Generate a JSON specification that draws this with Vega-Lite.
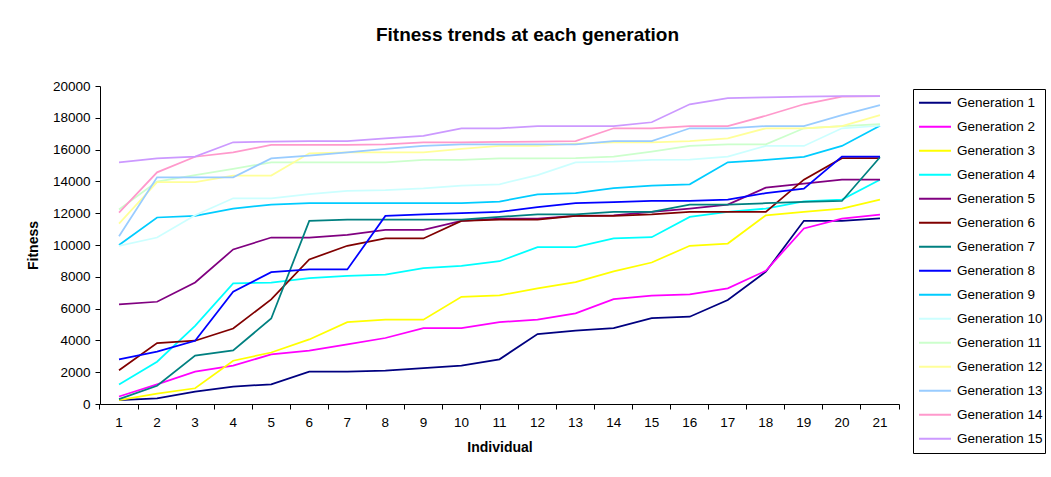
{
  "$schema": "https://vega.github.io/schema/vega-lite/v6.json",
  "width": 799,
  "height": 318,
  "autosize": {"type": "none"},
  "padding": {"left": 100, "top": 86, "right": 152, "bottom": 73},
  "background": "white",
  "title": {"text": "Fitness trends at each generation", "font": "Liberation Sans", "fontSize": 19, "fontWeight": "bold", "color": "#000000", "anchor": "middle", "dx": 28, "offset": 34},
  "config": {
    "view": {"stroke": null},
    "font": "Liberation Sans",
    "axis": {"domainColor": "#000000", "tickColor": "#000000", "tickSize": 5, "labelColor": "#000000", "labelFont": "Liberation Sans", "labelFontSize": 13.5, "titleFont": "Liberation Sans", "titleFontSize": 14, "titleFontWeight": "bold", "titleColor": "#000000", "grid": false}
  },
  "data": {"values": [
{"g":"Generation 1","i":1,"f":250},{"g":"Generation 1","i":2,"f":350},{"g":"Generation 1","i":3,"f":780},{"g":"Generation 1","i":4,"f":1090},{"g":"Generation 1","i":5,"f":1240},{"g":"Generation 1","i":6,"f":2040},{"g":"Generation 1","i":7,"f":2040},{"g":"Generation 1","i":8,"f":2100},{"g":"Generation 1","i":9,"f":2260},{"g":"Generation 1","i":10,"f":2410},{"g":"Generation 1","i":11,"f":2810},{"g":"Generation 1","i":12,"f":4400},{"g":"Generation 1","i":13,"f":4610},{"g":"Generation 1","i":14,"f":4770},{"g":"Generation 1","i":15,"f":5400},{"g":"Generation 1","i":16,"f":5490},{"g":"Generation 1","i":17,"f":6540},{"g":"Generation 1","i":18,"f":8320},{"g":"Generation 1","i":19,"f":11520},{"g":"Generation 1","i":20,"f":11520},{"g":"Generation 1","i":21,"f":11670},
{"g":"Generation 2","i":1,"f":470},{"g":"Generation 2","i":2,"f":1230},{"g":"Generation 2","i":3,"f":2030},{"g":"Generation 2","i":4,"f":2410},{"g":"Generation 2","i":5,"f":3120},{"g":"Generation 2","i":6,"f":3350},{"g":"Generation 2","i":7,"f":3750},{"g":"Generation 2","i":8,"f":4150},{"g":"Generation 2","i":9,"f":4770},{"g":"Generation 2","i":10,"f":4770},{"g":"Generation 2","i":11,"f":5150},{"g":"Generation 2","i":12,"f":5300},{"g":"Generation 2","i":13,"f":5700},{"g":"Generation 2","i":14,"f":6590},{"g":"Generation 2","i":15,"f":6810},{"g":"Generation 2","i":16,"f":6890},{"g":"Generation 2","i":17,"f":7270},{"g":"Generation 2","i":18,"f":8380},{"g":"Generation 2","i":19,"f":11040},{"g":"Generation 2","i":20,"f":11660},{"g":"Generation 2","i":21,"f":11910},
{"g":"Generation 3","i":1,"f":250},{"g":"Generation 3","i":2,"f":650},{"g":"Generation 3","i":3,"f":990},{"g":"Generation 3","i":4,"f":2720},{"g":"Generation 3","i":5,"f":3240},{"g":"Generation 3","i":6,"f":4060},{"g":"Generation 3","i":7,"f":5150},{"g":"Generation 3","i":8,"f":5300},{"g":"Generation 3","i":9,"f":5300},{"g":"Generation 3","i":10,"f":6740},{"g":"Generation 3","i":11,"f":6830},{"g":"Generation 3","i":12,"f":7270},{"g":"Generation 3","i":13,"f":7660},{"g":"Generation 3","i":14,"f":8340},{"g":"Generation 3","i":15,"f":8900},{"g":"Generation 3","i":16,"f":9950},{"g":"Generation 3","i":17,"f":10090},{"g":"Generation 3","i":18,"f":11870},{"g":"Generation 3","i":19,"f":12080},{"g":"Generation 3","i":20,"f":12290},{"g":"Generation 3","i":21,"f":12860},
{"g":"Generation 4","i":1,"f":1230},{"g":"Generation 4","i":2,"f":2660},{"g":"Generation 4","i":3,"f":4920},{"g":"Generation 4","i":4,"f":7580},{"g":"Generation 4","i":5,"f":7640},{"g":"Generation 4","i":6,"f":7920},{"g":"Generation 4","i":7,"f":8060},{"g":"Generation 4","i":8,"f":8130},{"g":"Generation 4","i":9,"f":8540},{"g":"Generation 4","i":10,"f":8690},{"g":"Generation 4","i":11,"f":8980},{"g":"Generation 4","i":12,"f":9860},{"g":"Generation 4","i":13,"f":9860},{"g":"Generation 4","i":14,"f":10410},{"g":"Generation 4","i":15,"f":10490},{"g":"Generation 4","i":16,"f":11770},{"g":"Generation 4","i":17,"f":12080},{"g":"Generation 4","i":18,"f":12290},{"g":"Generation 4","i":19,"f":12750},{"g":"Generation 4","i":20,"f":12860},{"g":"Generation 4","i":21,"f":14110},
{"g":"Generation 5","i":1,"f":6260},{"g":"Generation 5","i":2,"f":6430},{"g":"Generation 5","i":3,"f":7640},{"g":"Generation 5","i":4,"f":9720},{"g":"Generation 5","i":5,"f":10470},{"g":"Generation 5","i":6,"f":10470},{"g":"Generation 5","i":7,"f":10640},{"g":"Generation 5","i":8,"f":10950},{"g":"Generation 5","i":9,"f":10950},{"g":"Generation 5","i":10,"f":11520},{"g":"Generation 5","i":11,"f":11660},{"g":"Generation 5","i":12,"f":11660},{"g":"Generation 5","i":13,"f":11830},{"g":"Generation 5","i":14,"f":11870},{"g":"Generation 5","i":15,"f":12080},{"g":"Generation 5","i":16,"f":12290},{"g":"Generation 5","i":17,"f":12540},{"g":"Generation 5","i":18,"f":13610},{"g":"Generation 5","i":19,"f":13860},{"g":"Generation 5","i":20,"f":14110},{"g":"Generation 5","i":21,"f":14110},
{"g":"Generation 6","i":1,"f":2120},{"g":"Generation 6","i":2,"f":3830},{"g":"Generation 6","i":3,"f":3980},{"g":"Generation 6","i":4,"f":4750},{"g":"Generation 6","i":5,"f":6580},{"g":"Generation 6","i":6,"f":9090},{"g":"Generation 6","i":7,"f":9950},{"g":"Generation 6","i":8,"f":10410},{"g":"Generation 6","i":9,"f":10410},{"g":"Generation 6","i":10,"f":11520},{"g":"Generation 6","i":11,"f":11600},{"g":"Generation 6","i":12,"f":11600},{"g":"Generation 6","i":13,"f":11830},{"g":"Generation 6","i":14,"f":11830},{"g":"Generation 6","i":15,"f":11920},{"g":"Generation 6","i":16,"f":12080},{"g":"Generation 6","i":17,"f":12080},{"g":"Generation 6","i":18,"f":12080},{"g":"Generation 6","i":19,"f":14110},{"g":"Generation 6","i":20,"f":15460},{"g":"Generation 6","i":21,"f":15460},
{"g":"Generation 7","i":1,"f":310},{"g":"Generation 7","i":2,"f":1150},{"g":"Generation 7","i":3,"f":3040},{"g":"Generation 7","i":4,"f":3370},{"g":"Generation 7","i":5,"f":5380},{"g":"Generation 7","i":6,"f":11520},{"g":"Generation 7","i":7,"f":11600},{"g":"Generation 7","i":8,"f":11600},{"g":"Generation 7","i":9,"f":11600},{"g":"Generation 7","i":10,"f":11600},{"g":"Generation 7","i":11,"f":11770},{"g":"Generation 7","i":12,"f":11920},{"g":"Generation 7","i":13,"f":11920},{"g":"Generation 7","i":14,"f":12080},{"g":"Generation 7","i":15,"f":12080},{"g":"Generation 7","i":16,"f":12540},{"g":"Generation 7","i":17,"f":12540},{"g":"Generation 7","i":18,"f":12630},{"g":"Generation 7","i":19,"f":12710},{"g":"Generation 7","i":20,"f":12770},{"g":"Generation 7","i":21,"f":15520},
{"g":"Generation 8","i":1,"f":2810},{"g":"Generation 8","i":2,"f":3290},{"g":"Generation 8","i":3,"f":3980},{"g":"Generation 8","i":4,"f":7060},{"g":"Generation 8","i":5,"f":8290},{"g":"Generation 8","i":6,"f":8460},{"g":"Generation 8","i":7,"f":8460},{"g":"Generation 8","i":8,"f":11830},{"g":"Generation 8","i":9,"f":11920},{"g":"Generation 8","i":10,"f":12000},{"g":"Generation 8","i":11,"f":12080},{"g":"Generation 8","i":12,"f":12380},{"g":"Generation 8","i":13,"f":12630},{"g":"Generation 8","i":14,"f":12690},{"g":"Generation 8","i":15,"f":12770},{"g":"Generation 8","i":16,"f":12770},{"g":"Generation 8","i":17,"f":12860},{"g":"Generation 8","i":18,"f":13260},{"g":"Generation 8","i":19,"f":13550},{"g":"Generation 8","i":20,"f":15560},{"g":"Generation 8","i":21,"f":15560},
{"g":"Generation 9","i":1,"f":10000},{"g":"Generation 9","i":2,"f":11730},{"g":"Generation 9","i":3,"f":11830},{"g":"Generation 9","i":4,"f":12290},{"g":"Generation 9","i":5,"f":12540},{"g":"Generation 9","i":6,"f":12630},{"g":"Generation 9","i":7,"f":12630},{"g":"Generation 9","i":8,"f":12630},{"g":"Generation 9","i":9,"f":12630},{"g":"Generation 9","i":10,"f":12630},{"g":"Generation 9","i":11,"f":12730},{"g":"Generation 9","i":12,"f":13190},{"g":"Generation 9","i":13,"f":13260},{"g":"Generation 9","i":14,"f":13570},{"g":"Generation 9","i":15,"f":13740},{"g":"Generation 9","i":16,"f":13820},{"g":"Generation 9","i":17,"f":15200},{"g":"Generation 9","i":18,"f":15350},{"g":"Generation 9","i":19,"f":15540},{"g":"Generation 9","i":20,"f":16230},{"g":"Generation 9","i":21,"f":17500},
{"g":"Generation 10","i":1,"f":9950},{"g":"Generation 10","i":2,"f":10470},{"g":"Generation 10","i":3,"f":11870},{"g":"Generation 10","i":4,"f":12940},{"g":"Generation 10","i":5,"f":12940},{"g":"Generation 10","i":6,"f":13200},{"g":"Generation 10","i":7,"f":13400},{"g":"Generation 10","i":8,"f":13450},{"g":"Generation 10","i":9,"f":13560},{"g":"Generation 10","i":10,"f":13730},{"g":"Generation 10","i":11,"f":13820},{"g":"Generation 10","i":12,"f":14400},{"g":"Generation 10","i":13,"f":15200},{"g":"Generation 10","i":14,"f":15240},{"g":"Generation 10","i":15,"f":15350},{"g":"Generation 10","i":16,"f":15370},{"g":"Generation 10","i":17,"f":15560},{"g":"Generation 10","i":18,"f":16230},{"g":"Generation 10","i":19,"f":16230},{"g":"Generation 10","i":20,"f":17340},{"g":"Generation 10","i":21,"f":17500},
{"g":"Generation 11","i":1,"f":12230},{"g":"Generation 11","i":2,"f":13990},{"g":"Generation 11","i":3,"f":14400},{"g":"Generation 11","i":4,"f":14790},{"g":"Generation 11","i":5,"f":15200},{"g":"Generation 11","i":6,"f":15200},{"g":"Generation 11","i":7,"f":15200},{"g":"Generation 11","i":8,"f":15200},{"g":"Generation 11","i":9,"f":15350},{"g":"Generation 11","i":10,"f":15350},{"g":"Generation 11","i":11,"f":15450},{"g":"Generation 11","i":12,"f":15450},{"g":"Generation 11","i":13,"f":15460},{"g":"Generation 11","i":14,"f":15560},{"g":"Generation 11","i":15,"f":15870},{"g":"Generation 11","i":16,"f":16230},{"g":"Generation 11","i":17,"f":16330},{"g":"Generation 11","i":18,"f":16330},{"g":"Generation 11","i":19,"f":17340},{"g":"Generation 11","i":20,"f":17480},{"g":"Generation 11","i":21,"f":17600},
{"g":"Generation 12","i":1,"f":11350},{"g":"Generation 12","i":2,"f":13950},{"g":"Generation 12","i":3,"f":13950},{"g":"Generation 12","i":4,"f":14370},{"g":"Generation 12","i":5,"f":14370},{"g":"Generation 12","i":6,"f":15770},{"g":"Generation 12","i":7,"f":15830},{"g":"Generation 12","i":8,"f":15830},{"g":"Generation 12","i":9,"f":15830},{"g":"Generation 12","i":10,"f":16040},{"g":"Generation 12","i":11,"f":16230},{"g":"Generation 12","i":12,"f":16230},{"g":"Generation 12","i":13,"f":16380},{"g":"Generation 12","i":14,"f":16460},{"g":"Generation 12","i":15,"f":16460},{"g":"Generation 12","i":16,"f":16540},{"g":"Generation 12","i":17,"f":16710},{"g":"Generation 12","i":18,"f":17340},{"g":"Generation 12","i":19,"f":17340},{"g":"Generation 12","i":20,"f":17480},{"g":"Generation 12","i":21,"f":18170},
{"g":"Generation 13","i":1,"f":10550},{"g":"Generation 13","i":2,"f":14260},{"g":"Generation 13","i":3,"f":14260},{"g":"Generation 13","i":4,"f":14260},{"g":"Generation 13","i":5,"f":15450},{"g":"Generation 13","i":6,"f":15620},{"g":"Generation 13","i":7,"f":15830},{"g":"Generation 13","i":8,"f":16040},{"g":"Generation 13","i":9,"f":16230},{"g":"Generation 13","i":10,"f":16330},{"g":"Generation 13","i":11,"f":16330},{"g":"Generation 13","i":12,"f":16330},{"g":"Generation 13","i":13,"f":16330},{"g":"Generation 13","i":14,"f":16540},{"g":"Generation 13","i":15,"f":16540},{"g":"Generation 13","i":16,"f":17340},{"g":"Generation 13","i":17,"f":17340},{"g":"Generation 13","i":18,"f":17480},{"g":"Generation 13","i":19,"f":17480},{"g":"Generation 13","i":20,"f":18170},{"g":"Generation 13","i":21,"f":18800},
{"g":"Generation 14","i":1,"f":12040},{"g":"Generation 14","i":2,"f":14570},{"g":"Generation 14","i":3,"f":15550},{"g":"Generation 14","i":4,"f":15830},{"g":"Generation 14","i":5,"f":16290},{"g":"Generation 14","i":6,"f":16290},{"g":"Generation 14","i":7,"f":16290},{"g":"Generation 14","i":8,"f":16330},{"g":"Generation 14","i":9,"f":16460},{"g":"Generation 14","i":10,"f":16460},{"g":"Generation 14","i":11,"f":16480},{"g":"Generation 14","i":12,"f":16500},{"g":"Generation 14","i":13,"f":16540},{"g":"Generation 14","i":14,"f":17340},{"g":"Generation 14","i":15,"f":17340},{"g":"Generation 14","i":16,"f":17480},{"g":"Generation 14","i":17,"f":17480},{"g":"Generation 14","i":18,"f":18130},{"g":"Generation 14","i":19,"f":18850},{"g":"Generation 14","i":20,"f":19330},{"g":"Generation 14","i":21,"f":19370},
{"g":"Generation 15","i":1,"f":15200},{"g":"Generation 15","i":2,"f":15450},{"g":"Generation 15","i":3,"f":15560},{"g":"Generation 15","i":4,"f":16460},{"g":"Generation 15","i":5,"f":16500},{"g":"Generation 15","i":6,"f":16540},{"g":"Generation 15","i":7,"f":16540},{"g":"Generation 15","i":8,"f":16710},{"g":"Generation 15","i":9,"f":16870},{"g":"Generation 15","i":10,"f":17340},{"g":"Generation 15","i":11,"f":17340},{"g":"Generation 15","i":12,"f":17480},{"g":"Generation 15","i":13,"f":17480},{"g":"Generation 15","i":14,"f":17480},{"g":"Generation 15","i":15,"f":17720},{"g":"Generation 15","i":16,"f":18850},{"g":"Generation 15","i":17,"f":19230},{"g":"Generation 15","i":18,"f":19290},{"g":"Generation 15","i":19,"f":19330},{"g":"Generation 15","i":20,"f":19370},{"g":"Generation 15","i":21,"f":19370}
  ]},
  "mark": {"type": "line", "strokeWidth": 1.75},
  "encoding": {
    "x": {"field": "i", "type": "ordinal", "bandPosition": 0.5,
      "scale": {"type": "band", "paddingInner": 0, "paddingOuter": 0},
      "axis": {"title": "Individual", "labelAngle": 0, "bandPosition": 1, "tickExtra": true, "labelPadding": 6, "titlePadding": 12}},
    "y": {"field": "f", "type": "quantitative",
      "scale": {"domain": [0, 20000], "nice": false, "zero": true},
      "axis": {"title": "Fitness", "values": [0, 2000, 4000, 6000, 8000, 10000, 12000, 14000, 16000, 18000, 20000], "format": "d", "labelPadding": 5, "titlePadding": 12}},
    "color": {"field": "g", "type": "nominal", "sort": null,
      "scale": {
        "domain": ["Generation 1","Generation 2","Generation 3","Generation 4","Generation 5","Generation 6","Generation 7","Generation 8","Generation 9","Generation 10","Generation 11","Generation 12","Generation 13","Generation 14","Generation 15"],
        "range": ["#000080","#FF00FF","#FFFF00","#00FFFF","#800080","#800000","#008080","#0000FF","#00CCFF","#CCFFFF","#CCFFCC","#FFFF99","#99CCFF","#FF99CC","#CC99FF"]},
      "legend": {"title": null, "orient": "none", "legendX": 813, "legendY": 3, "symbolType": "stroke", "symbolSize": 1024, "symbolStrokeWidth": 2, "symbolOffset": 3, "labelFont": "Liberation Sans", "labelFontSize": 13.5, "labelColor": "#000000", "labelOffset": 5, "strokeColor": "#000000", "fillColor": "#ffffff", "padding": 2, "rowPadding": 0, "clipHeight": 23.6, "labelLimit": 200}}
  }
}
